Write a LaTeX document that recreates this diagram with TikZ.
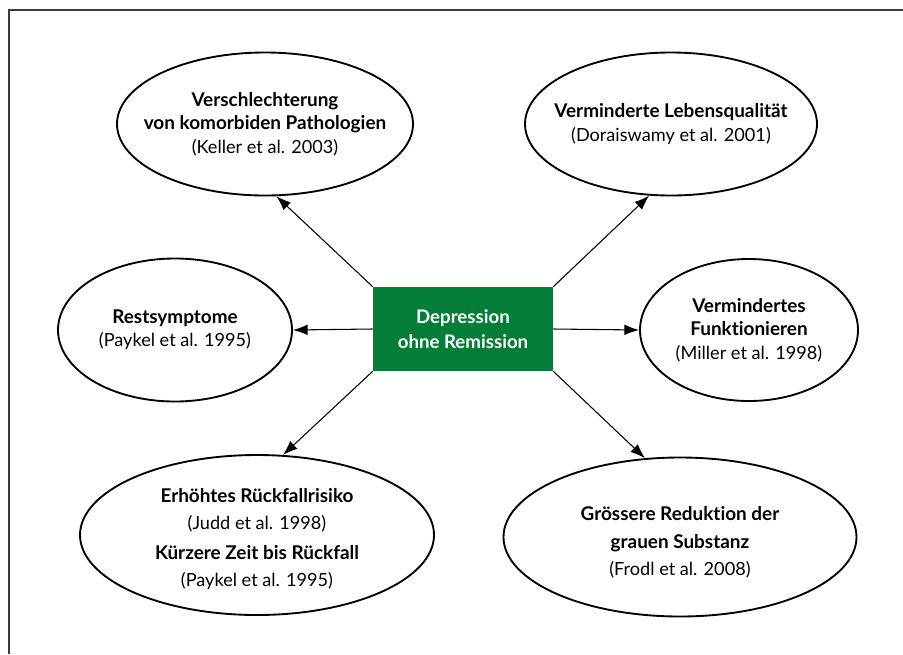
\documentclass[tikz,border=0pt]{standalone}
\usepackage{fontspec}
\setmainfont{Lato}[Ligatures=NoCommon]
\usetikzlibrary{shapes.geometric,arrows.meta}
\definecolor{boxgreen}{RGB}{4,125,56}
\definecolor{framegray}{RGB}{60,60,60}
\newcommand{\hd}[1]{{\bfseries\fontsize{14.2}{17.3}\selectfont #1}}
\tikzset{
  bub/.style={ellipse,draw=black,line width=1.4pt,inner sep=0pt},
  bubtext/.style={align=center,inner sep=0pt,font=\fontsize{13.6}{17.5}\selectfont},
  bubtextwide/.style={align=center,inner sep=0pt,font=\fontsize{13.6}{20.3}\selectfont},
  arr/.style={draw=black,line width=0.8pt,-{Latex[length=11pt,width=8pt]}},
  center box/.style={fill=boxgreen,text=white,inner sep=0pt,align=center,
    minimum width=135pt,minimum height=63pt,font=\bfseries\fontsize{14}{18.5}\selectfont}
}
\begin{document}
\begin{tikzpicture}[x=0.75pt,y=-0.75pt]
\useasboundingbox (0,0) rectangle (903,654);
\draw[framegray,line width=0.8pt] (9,654) -- (9,10) -- (903,10);

\node[center box] (c) at (463,329) {Depression\\ohne Remission};

\node[bub,minimum width=296*0.75pt,minimum height=143*0.75pt] (e1) at (265,124) {};
\node[bub,minimum width=292*0.75pt,minimum height=143*0.75pt] (e2) at (671,124) {};
\node[bub,minimum width=234*0.75pt,minimum height=143*0.75pt] (e3) at (175,330) {};
\node[bub,minimum width=218*0.75pt,minimum height=142*0.75pt] (e4) at (749,330) {};
\node[bub,minimum width=354*0.75pt,minimum height=160*0.75pt] (e5) at (257,535) {};
\node[bub,minimum width=353*0.75pt,minimum height=159*0.75pt] (e6) at (680,537) {};

\node[bubtext] (t1) at (e1) {\hd{Verschlechterung}\\\hd{von komorbiden Pathologien}\\(Keller et al. 2003)};
\node[bubtext] (t2) at (e2) {\hd{Verminderte Lebensqualität}\\(Doraiswamy et al. 2001)};
\node[bubtext] (t3) at (e3) {\hd{Restsymptome}\\(Paykel et al. 1995)};
\node[bubtext] (t4) at (e4) {\hd{Vermindertes}\\\hd{Funktionieren}\\(Miller et al. 1998)};
\node[bubtextwide] (t5) at ([yshift=-3pt]e5.center) {\hd{Erhöhtes Rückfallrisiko}\\(Judd et al. 1998)\\[2pt]\hd{Kürzere Zeit bis Rückfall}\\(Paykel et al. 1995)};
\node[bubtextwide] (t6) at ([yshift=-4pt]e6.center) {\hd{Grössere Reduktion der}\\\hd{grauen Substanz}\\(Frodl et al. 2008)};

\draw[arr] (c.north west) -- (e1.-81);
\draw[arr] (c.north east) -- (e2.-107);
\draw[arr] (c.west) -- (e3.east);
\draw[arr] (c.east) -- (e4.west);
\draw[arr] (c.south west) -- (e5.72);
\draw[arr] (c.south east) -- (e6.114);
\end{tikzpicture}
\end{document}
